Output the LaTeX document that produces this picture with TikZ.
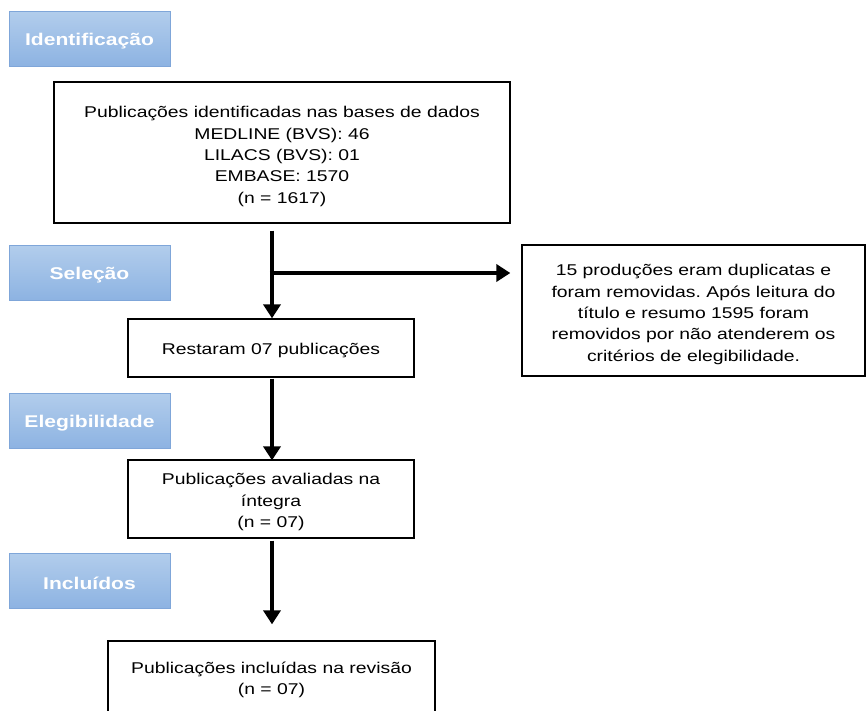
\documentclass[tikz,border=0pt]{standalone}
\usepackage{fontspec}
\setmainfont[FakeStretch=1.24]{Liberation Sans}
\usetikzlibrary{arrows.meta}
\definecolor{stagetop}{HTML}{B2CDEC}
\definecolor{stagebot}{HTML}{8DB3E2}
\definecolor{stageedge}{HTML}{7FA6D9}
\tikzset{
  stage/.style={draw=stageedge, line width=0.8pt, top color=stagetop, bottom color=stagebot,
    minimum width=161pt, minimum height=55pt, inner sep=0pt},
  stagetxt/.style={inner sep=0pt, font=\fontsize{17}{20}\selectfont\bfseries, text=white},
  box/.style={draw=black, line width=1.3pt, fill=white, inner sep=0pt},
  txt/.style={align=center, inner sep=0pt, font=\fontsize{15.6}{21.4}\selectfont},
  flow/.style={line width=4.5pt, -{Triangle[width=17pt,length=14pt]}},
}
\begin{document}
\frenchspacing
\begin{tikzpicture}[x=1pt,y=-1pt]
\useasboundingbox (0,0) rectangle (866,710);
\clip (0,0) rectangle (866,710);
\fill[white] (0,0) rectangle (866,710);
% stage labels
\node[stage] (s1) at (89.5,38.5) {};
\node[stagetxt] (l1) at ([yshift=-2.5pt]s1.center) {Identificação};
\node[stage] (s2) at (89.5,272.5) {};
\node[stagetxt] (l2) at ([yshift=-2.5pt]s2.center) {Seleção};
\node[stage] (s3) at (89.5,420.5) {};
\node[stagetxt] (l3) at ([yshift=-2.5pt]s3.center) {Elegibilidade};
\node[stage] (s4) at (89.5,580.5) {};
\node[stagetxt] (l4) at ([yshift=-2.5pt]s4.center) {Incluídos};
% boxes
\node[box, minimum width=456pt, minimum height=141pt] (b1) at (282,152.5) {};
\node[txt] (t1) at ([yshift=-4pt]b1.center)
  {Publicações identificadas nas bases de dados\\MEDLINE (BVS): 46\\LILACS (BVS): 01\\EMBASE: 1570\\(n = 1617)};
\node[box, minimum width=343pt, minimum height=131pt] (bx) at (693.5,310.5) {};
\node[txt] (tx) at ([yshift=-4pt]bx.center)
  {15 produções eram duplicatas e\\foram removidas. Após leitura do\\título e resumo 1595 foram\\removidos por não atenderem os\\critérios de elegibilidade.};
\node[box, minimum width=286pt, minimum height=58pt] (b2) at (271,348) {};
\node[txt] (t2) at ([yshift=-2pt]b2.center) {Restaram 07 publicações};
\node[box, minimum width=286pt, minimum height=78pt] (b3) at (271,499) {};
\node[txt] (t3) at ([yshift=-3pt]b3.center) {Publicações avaliadas na\\íntegra\\(n = 07)};
\node[box, minimum width=327pt, minimum height=76pt] (b4) at (271.5,679) {};
\node[txt] (t4) at ([yshift=-1pt]b4.center) {Publicações incluídas na revisão\\(n = 07)};
% connectors
\coordinate (j) at (272,273);
\draw[flow] ([yshift=-7pt]b1.south -| j) -- (b2.north -| j);
\draw[line width=4.5pt] ([xshift=-2pt]j) -- ([xshift=2pt]j);
\draw[flow] ([xshift=-2.2pt]j) -- ([xshift=-11pt]bx.west |- j);
\draw[flow] ([yshift=-1pt]b2.south -| j) -- ([yshift=-1pt]b3.north -| j);
\draw[flow] ([yshift=-2pt]b3.south -| j) -- ([yshift=16pt]b4.north -| j);
\end{tikzpicture}
\end{document}
